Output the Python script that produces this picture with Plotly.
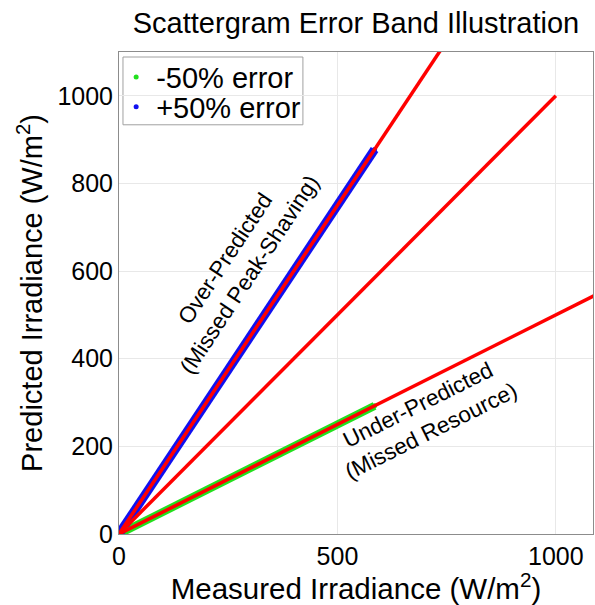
import plotly.graph_objects as go

# Measured irradiance samples (W/m^2) and the corresponding predictions
measured = [0, 20, 40, 60, 80, 100, 120, 140, 160, 180, 200, 220, 240, 260, 280,
            300, 320, 340, 360, 380, 400, 420, 440, 460, 480, 500, 520, 540, 560, 585]
predicted_low = [0, 10, 20, 30, 40, 50, 60, 70, 80, 90, 100, 110, 120, 130, 140,
                 150, 160, 170, 180, 190, 200, 210, 220, 230, 240, 250, 260, 270, 280, 292.5]
predicted_high = [0, 30, 60, 90, 120, 150, 180, 210, 240, 270, 300, 330, 360, 390, 420,
                  450, 480, 510, 540, 570, 600, 630, 660, 690, 720, 750, 780, 810, 840, 877.5]

# Reference lines: perfect agreement and the +/-50% error bounds
ref_x_unity = [0, 1000]
ref_y_unity = [0, 1000]
ref_x_bounds = [0, 2200]
ref_y_upper = [0, 3300]
ref_y_lower = [0, 1100]

FONT = "Liberation Sans, Arial, sans-serif"
GREEN = "#22e01e"
BLUE = "#1010f0"
RED = "#ff0000"

fig = go.Figure()

# thick bands under the sample points
fig.add_trace(go.Scatter(x=measured, y=predicted_low, mode="lines",
                         line=dict(color=GREEN, width=8), showlegend=False, hoverinfo="skip"))
fig.add_trace(go.Scatter(x=measured, y=predicted_high, mode="lines",
                         line=dict(color=BLUE, width=9), showlegend=False, hoverinfo="skip"))
# each series gets its own legend so the two rows sit close together
fig.add_trace(go.Scatter(x=measured, y=predicted_low, mode="markers", name="-50% error",
                         marker=dict(color=GREEN, size=5), legend="legend"))
fig.add_trace(go.Scatter(x=measured, y=predicted_high, mode="markers", name="+50% error",
                         marker=dict(color=BLUE, size=5), legend="legend2"))

# red reference lines drawn on top
for xs, ys in [(ref_x_bounds, ref_y_upper), (ref_x_unity, ref_y_unity), (ref_x_bounds, ref_y_lower)]:
    fig.add_trace(go.Scatter(x=xs, y=ys, mode="lines", line=dict(color=RED, width=3.5),
                             showlegend=False, hoverinfo="skip"))

fig.add_annotation(x=272, y=611, text="Over-Predicted<br>(Missed Peak-Shaving)",
                   textangle=-56.5, showarrow=False,
                   font=dict(family=FONT, size=22.5, color="black"))
fig.add_annotation(x=699, y=265, text="Under-Predicted<br>(Missed Resource)",
                   textangle=-26.5, showarrow=False,
                   font=dict(family=FONT, size=22.5, color="black"))

# legend frame
fig.add_shape(type="rect", xref="paper", yref="paper",
              x0=0.0084, x1=0.388, y0=0.849, y1=0.9896,
              line=dict(color="#a0a0a0", width=1), fillcolor="white", layer="between")

axis_common = dict(
    showline=True, linecolor="#8c8c8c", linewidth=1, mirror=True,
    showgrid=True, gridcolor="#e8e8e8", gridwidth=1,
    zeroline=False, ticks="",
    tickfont=dict(family=FONT, size=25, color="black"),
)

legend_common = dict(xanchor="left", yanchor="middle", bgcolor="rgba(0,0,0,0)",
                     borderwidth=0, itemwidth=30,
                     font=dict(family=FONT, size=29, color="black"))

fig.update_layout(
    width=595, height=605,
    margin=dict(l=119, r=2, t=52, b=71),
    paper_bgcolor="white", plot_bgcolor="white",
    font=dict(family=FONT, color="black"),
    title=dict(text="Scattergram Error Band Illustration", x=0.5, xanchor="center",
               xref="paper", y=1 - 23 / 605, yanchor="middle",
               font=dict(family=FONT, size=29, color="black")),
    xaxis=dict(range=[0, 1085], tickvals=[0, 500, 1000],
               title=dict(text="Measured Irradiance (W/m<sup>2</sup>)", standoff=2,
                          font=dict(family=FONT, size=29.5, color="black")),
               **axis_common),
    yaxis=dict(range=[0, 1100], tickvals=[0, 200, 400, 600, 800, 1000],
               title=dict(text="Predicted Irradiance (W/m<sup>2</sup>)", standoff=6,
                          font=dict(family=FONT, size=29, color="black")),
               **axis_common),
    legend=dict(x=-0.006, y=0.948, **legend_common),
    legend2=dict(x=-0.006, y=0.886, **legend_common),
)

fig.write_html("out.html")
